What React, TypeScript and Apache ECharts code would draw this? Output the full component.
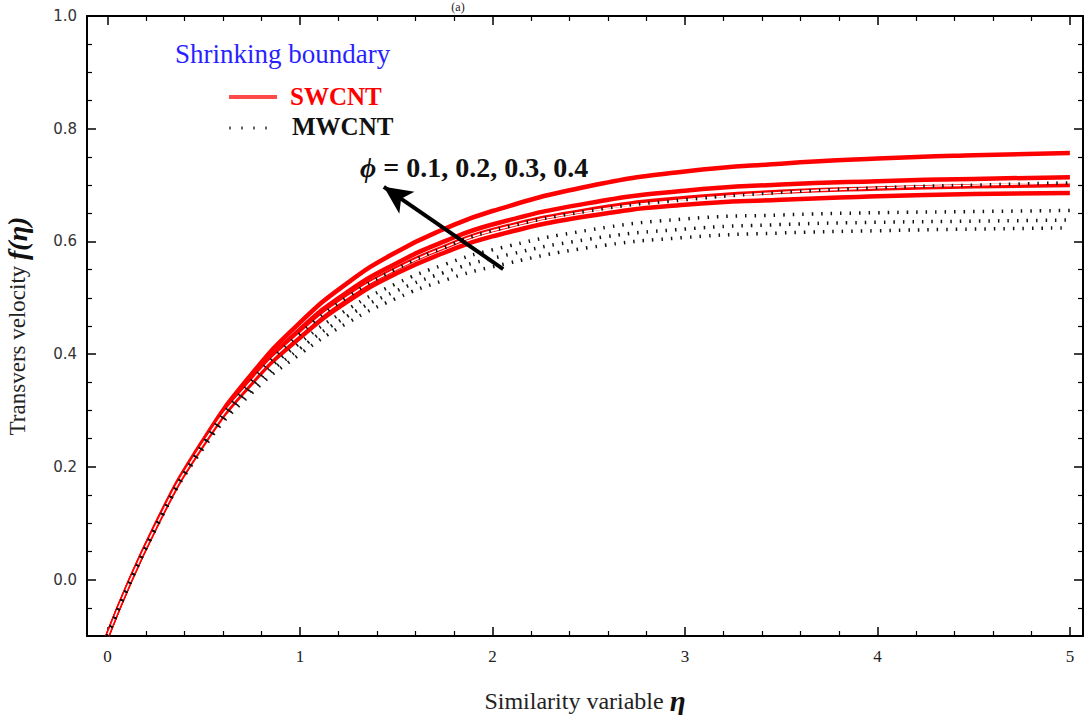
import React, { useEffect, useRef } from "react";
import * as echarts from "echarts";

// ---- data ----
const eta = [0, 0.25, 0.5, 0.75, 1, 1.25, 1.5, 1.75, 2, 2.5, 3, 3.5, 4, 4.5, 5];

const swcntPhi01 = [-0.1, 0.093, 0.241, 0.349, 0.429, 0.494, 0.543, 0.58, 0.609, 0.645, 0.665, 0.674, 0.68, 0.684, 0.686];
const swcntPhi02 = [-0.1, 0.094, 0.243, 0.353, 0.436, 0.502, 0.552, 0.59, 0.62, 0.656, 0.677, 0.688, 0.694, 0.698, 0.7];
const swcntPhi03 = [-0.1, 0.095, 0.245, 0.357, 0.444, 0.511, 0.561, 0.6, 0.63, 0.668, 0.69, 0.701, 0.707, 0.711, 0.714];
const swcntPhi04 = [-0.1, 0.096, 0.248, 0.365, 0.456, 0.527, 0.581, 0.622, 0.654, 0.698, 0.724, 0.738, 0.747, 0.753, 0.757];

const mwcntPhi01 = [-0.1, 0.09, 0.234, 0.331, 0.4, 0.456, 0.499, 0.531, 0.555, 0.589, 0.607, 0.615, 0.619, 0.622, 0.624];
const mwcntPhi02 = [-0.1, 0.091, 0.237, 0.337, 0.41, 0.468, 0.512, 0.545, 0.57, 0.604, 0.622, 0.63, 0.634, 0.636, 0.638];
const mwcntPhi03 = [-0.1, 0.092, 0.24, 0.343, 0.42, 0.48, 0.525, 0.559, 0.585, 0.62, 0.64, 0.647, 0.651, 0.653, 0.655];
const mwcntPhi04 = [-0.1, 0.094, 0.243, 0.353, 0.436, 0.502, 0.551, 0.589, 0.619, 0.654, 0.674, 0.687, 0.695, 0.7, 0.704];

const xMajorTicks = [0, 1, 2, 3, 4, 5];
const xMinorTicks = [0.2, 0.4, 0.6, 0.8, 1.2, 1.4, 1.6, 1.8, 2.2, 2.4, 2.6, 2.8, 3.2, 3.4, 3.6, 3.8, 4.2, 4.4, 4.6, 4.8];
const yMajorTicks = [0, 0.2, 0.4, 0.6, 0.8, 1.0];
const yMinorTicks = [-0.05, 0.05, 0.1, 0.15, 0.25, 0.3, 0.35, 0.45, 0.5, 0.55, 0.65, 0.7, 0.75, 0.85, 0.9, 0.95];

const arrowFrom = [2.056, 0.551];
const arrowTo = [1.436, 0.697];

const X_MIN = -0.106;
const X_MAX = 5.068;
const Y_MIN = -0.1;
const Y_MAX = 1.0;

const SERIF = "'Liberation Serif', 'Times New Roman', serif";

function pairs(ys: number[]) {
  return eta.map((x, i) => [x, ys[i]]);
}

export default function App() {
  const ref = useRef<HTMLDivElement>(null);

  useEffect(() => {
    if (!ref.current) return;
    const chart = echarts.init(ref.current, null, { renderer: "svg" });

    const frameLine = { show: true, onZero: false, lineStyle: { color: "#000", width: 2 } };
    const noLine = { show: false, onZero: false };
    const majorTick = (vals: number[]) => ({
      show: true,
      inside: true,
      length: 9,
      customValues: vals,
      lineStyle: { color: "#000", width: 1.5 },
    });
    const minorTick = (vals: number[]) => ({
      show: true,
      inside: true,
      length: 5,
      customValues: vals,
      lineStyle: { color: "#000", width: 1.2 },
    });
    const gridRect = { left: 87, right: 2, top: 16, bottom: 79, containLabel: false, outerBoundsMode: "none" };

    const redLine = (name: string, ys: number[]) => ({
      name,
      type: "line",
      data: pairs(ys),
      smooth: 0.5,
      showSymbol: false,
      symbol: "none",
      xAxisIndex: 0,
      yAxisIndex: 0,
      lineStyle: { color: "#ff0000", width: 4.5 },
      z: 3,
    });
    const dotLine = (name: string, ys: number[]) => ({
      name,
      type: "line",
      data: pairs(ys),
      smooth: 0.5,
      showSymbol: false,
      symbol: "none",
      xAxisIndex: 0,
      yAxisIndex: 0,
      lineStyle: { color: "#111", width: 3.5, type: [1.5, 8], cap: "butt" },
      z: 5,
    });

    const option: any = {
      animation: false,
      backgroundColor: "#ffffff",
      grid: [gridRect, gridRect],
      xAxis: [
        {
          gridIndex: 0,
          type: "value",
          position: "bottom",
          min: X_MIN,
          max: X_MAX,
          axisLine: frameLine,
          axisTick: majorTick(xMajorTicks),
          axisLabel: {
            customValues: xMajorTicks,
            formatter: (v: number) => String(Math.round(v)),
            fontFamily: SERIF,
            fontSize: 17,
            color: "#222",
            margin: 12,
          },
          splitLine: { show: false },
          name: "{a|Similarity variable }{b|η}",
          nameLocation: "middle",
          nameGap: 50,
          nameTextStyle: {
            rich: {
              a: { fontFamily: SERIF, fontSize: 24, color: "#222" },
              b: { fontFamily: SERIF, fontSize: 29, fontWeight: "bold", fontStyle: "italic", color: "#111" },
            },
          },
        },
        {
          gridIndex: 0,
          type: "value",
          position: "top",
          min: X_MIN,
          max: X_MAX,
          axisLine: frameLine,
          axisTick: majorTick(xMajorTicks),
          axisLabel: { show: false },
          splitLine: { show: false },
        },
        {
          gridIndex: 1,
          type: "value",
          position: "bottom",
          min: X_MIN,
          max: X_MAX,
          axisLine: noLine,
          axisTick: minorTick(xMinorTicks),
          axisLabel: { show: false },
          splitLine: { show: false },
        },
        {
          gridIndex: 1,
          type: "value",
          position: "top",
          min: X_MIN,
          max: X_MAX,
          axisLine: noLine,
          axisTick: minorTick(xMinorTicks),
          axisLabel: { show: false },
          splitLine: { show: false },
        },
      ],
      yAxis: [
        {
          gridIndex: 0,
          type: "value",
          position: "left",
          min: Y_MIN,
          max: Y_MAX,
          axisLine: frameLine,
          axisTick: majorTick(yMajorTicks),
          axisLabel: {
            customValues: yMajorTicks,
            formatter: (v: number) => v.toFixed(1),
            fontFamily: "'DejaVu Sans', sans-serif",
            fontSize: 15,
            color: "#333",
            margin: 10,
          },
          splitLine: { show: false },
          name: "{a|Transvers velocity }{b|f(η)}",
          nameLocation: "middle",
          nameGap: 56,
          nameRotate: 90,
          nameTextStyle: {
            rich: {
              a: { fontFamily: SERIF, fontSize: 23, color: "#222" },
              b: { fontFamily: SERIF, fontSize: 28, fontWeight: "bold", fontStyle: "italic", color: "#111" },
            },
          },
        },
        {
          gridIndex: 0,
          type: "value",
          position: "right",
          min: Y_MIN,
          max: Y_MAX,
          axisLine: frameLine,
          axisTick: majorTick(yMajorTicks),
          axisLabel: { show: false },
          splitLine: { show: false },
        },
        {
          gridIndex: 1,
          type: "value",
          position: "left",
          min: Y_MIN,
          max: Y_MAX,
          axisLine: noLine,
          axisTick: minorTick(yMinorTicks),
          axisLabel: { show: false },
          splitLine: { show: false },
        },
        {
          gridIndex: 1,
          type: "value",
          position: "right",
          min: Y_MIN,
          max: Y_MAX,
          axisLine: noLine,
          axisTick: minorTick(yMinorTicks),
          axisLabel: { show: false },
          splitLine: { show: false },
        },
      ],
      series: [
        redLine("SWCNT φ=0.1", swcntPhi01),
        redLine("SWCNT φ=0.2", swcntPhi02),
        redLine("SWCNT φ=0.3", swcntPhi03),
        {
          ...redLine("SWCNT φ=0.4", swcntPhi04),
          markLine: {
            silent: true,
            symbol: ["none", "arrow"],
            symbolSize: [20, 28],
            label: { show: false },
            lineStyle: { color: "#000", width: 4, type: "solid" },
            data: [[{ coord: arrowFrom }, { coord: arrowTo }]],
            z: 10,
          },
        },
        {
          name: "MWCNT φ=0.4 halo",
          type: "line",
          data: pairs(mwcntPhi04),
          smooth: 0.5,
          showSymbol: false,
          symbol: "none",
          lineStyle: { color: "#ffffff", width: 1.4 },
          z: 4,
        },
        dotLine("MWCNT φ=0.1", mwcntPhi01),
        dotLine("MWCNT φ=0.2", mwcntPhi02),
        dotLine("MWCNT φ=0.3", mwcntPhi03),
        dotLine("MWCNT φ=0.4", mwcntPhi04),
      ],
      graphic: [
        {
          type: "text",
          x: 458,
          y: 1,
          style: { text: "(a)", font: `12px ${SERIF}`, fill: "#222", align: "center", verticalAlign: "top" },
        },
        {
          type: "text",
          x: 175,
          y: 54,
          style: { text: "Shrinking boundary", font: `27px ${SERIF}`, fill: "#2a1fff", verticalAlign: "middle" },
        },
        {
          type: "line",
          shape: { x1: 229, y1: 97, x2: 277, y2: 97 },
          style: { stroke: "#ff4a4a", lineWidth: 4 },
        },
        {
          type: "text",
          x: 290,
          y: 96,
          style: { text: "SWCNT", font: `bold 25px ${SERIF}`, fill: "#ff0000", verticalAlign: "middle" },
        },
        {
          type: "line",
          shape: { x1: 229, y1: 128, x2: 268, y2: 128 },
          style: { stroke: "#666", lineWidth: 3, lineDash: [2, 10] },
        },
        {
          type: "text",
          x: 292,
          y: 126,
          style: { text: "MWCNT", font: `bold 25px ${SERIF}`, fill: "#111", verticalAlign: "middle" },
        },
        {
          type: "text",
          x: 360,
          y: 167,
          z: 20,
          style: {
            text: "{p|ϕ}{t| = 0.1, 0.2, 0.3, 0.4}",
            verticalAlign: "middle",
            rich: {
              p: { font: `bold italic 28px ${SERIF}`, fill: "#111" },
              t: { font: `bold 28px ${SERIF}`, fill: "#111" },
            },
          },
        },
      ],
    };

    chart.setOption(option);
    return () => chart.dispose();
  }, []);

  return (
    <div
      ref={ref}
      style={{ position: "fixed", left: 0, top: 0, width: 1085, height: 715, background: "#fff" }}
    />
  );
}
